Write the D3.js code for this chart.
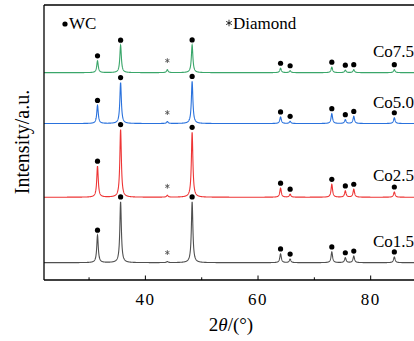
<!DOCTYPE html>
<html>
<head>
<meta charset="utf-8">
<script src="https://cdn.jsdelivr.net/npm/d3@7"></script>
<style>
  body { margin: 0; background: #fff; }
  svg { display: block; font-family: "Liberation Serif", "DejaVu Serif", serif; }
</style>
</head>
<body>
<svg id="chart" width="414" height="341"></svg>
<script>
// peak positions (2theta) and what phase each belongs to
const peakPos = [31.5, 35.6, 43.9, 48.3, 64.0, 65.7, 73.1, 75.5, 77.0, 84.2];
const peakPhase = ["WC", "WC", "D", "WC", "WC", "WC", "WC", "WC", "WC", "WC"];

// peak intensities per sample (a.u.)
const samples = ["Co1.5", "Co2.5", "Co5.0", "Co7.5"];
const baseLevels = [6.3, 30.1, 56.9, 75.4];
const co15 = [10.0, 22.1, 0.4, 22.1, 3.2, 1.3, 3.9, 1.8, 2.4, 2.1];
const co25 = [11.3, 24.6, 0.7, 23.6, 3.3, 1.1, 4.7, 2.3, 2.9, 1.9];
const co50 = [6.6, 14.9, 0.7, 15.3, 2.4, 0.8, 3.6, 1.4, 2.6, 2.1];
const co75 = [4.3, 10.0, 1.1, 10.1, 1.6, 0.7, 2.0, 0.9, 1.1, 1.1];
const heights = [co15, co25, co50, co75];
const colors = ["#505050", "#ee3535", "#2a72dd", "#3aa66a"];

const xTicks = [30, 40, 50, 60, 70, 80, 90];
const xLabels = [40, 60, 80];

const svg = d3.select("#chart");
const W = 414, H = 341;
const margin = { left: 44, top: 5, bottom: 280 };

const x = d3.scaleLinear().domain([22, 90]).range([margin.left, 427]);
const y = d3.scaleLinear().domain([0, 100]).range([margin.bottom, margin.top]);

svg.append("rect").attr("width", W).attr("height", H).attr("fill", "#fff");

// peak profile (lorentzian) on a grid of 2theta
const hw = 0.16;
const grid = d3.range(22, 90.001, 0.02);
function profile(base, hs) {
  return grid.map((t) => {
    let v = base;
    peakPos.forEach((p, i) => {
      const d = (t - p) / hw;
      v += hs[i] / (1 + d * d);
    });
    return [t, v];
  });
}

const line = d3.line().x((d) => x(d[0])).y((d) => y(d[1]));

svg.append("clipPath").attr("id", "plotclip")
  .append("rect").attr("x", margin.left).attr("y", margin.top)
  .attr("width", W - margin.left).attr("height", margin.bottom - margin.top);

const plot = svg.append("g").attr("clip-path", "url(#plotclip)");

const star = d3.symbol(d3.symbolAsterisk, 16)();

samples.forEach((s, k) => {
  plot.append("path")
    .datum(profile(baseLevels[k], heights[k]))
    .attr("fill", "none")
    .attr("stroke", colors[k])
    .attr("stroke-width", 1.1)
    .attr("d", line);

  // phase markers above each peak
  peakPos.forEach((p, i) => {
    const top = y(baseLevels[k] + heights[k][i]);
    if (peakPhase[i] === "WC") {
      svg.append("circle")
        .attr("cx", x(p))
        .attr("cy", top - 5)
        .attr("r", 2.6)
        .attr("fill", "#000");
    } else {
      svg.append("path")
        .attr("d", star)
        .attr("transform", `translate(${x(p)},${top - 9})`)
        .attr("fill", "none")
        .attr("stroke", "#555")
        .attr("stroke-width", 0.9);
    }
  });

  svg.append("text")
    .attr("x", 373)
    .attr("y", y(baseLevels[k]) - 16)
    .attr("font-size", 17)
    .text(s);
});

// frame: left, top, bottom
svg.append("line").attr("x1", margin.left).attr("x2", margin.left)
  .attr("y1", margin.top).attr("y2", margin.bottom)
  .attr("stroke", "#000").attr("stroke-width", 1.3);
svg.append("line").attr("x1", margin.left).attr("x2", W)
  .attr("y1", margin.top).attr("y2", margin.top)
  .attr("stroke", "#000").attr("stroke-width", 1.3);
svg.append("line").attr("x1", margin.left).attr("x2", W)
  .attr("y1", margin.bottom).attr("y2", margin.bottom)
  .attr("stroke", "#000").attr("stroke-width", 1.3);

// inward ticks
svg.selectAll("line.xtick")
  .data(xTicks)
  .join("line")
  .attr("class", "xtick")
  .attr("x1", (d) => x(d)).attr("x2", (d) => x(d))
  .attr("y1", margin.bottom)
  .attr("y2", (d) => margin.bottom - (xLabels.includes(d) ? 4.5 : 2.7))
  .attr("stroke", "#000").attr("stroke-width", 1);

svg.selectAll("text.xlab")
  .data(xLabels)
  .join("text")
  .attr("class", "xlab")
  .attr("x", (d) => x(d))
  .attr("y", 305)
  .attr("text-anchor", "middle")
  .attr("font-size", 17)
  .attr("letter-spacing", 1.5)
  .text((d) => d);

// axis titles
const xt = svg.append("text")
  .attr("x", 231).attr("y", 331)
  .attr("text-anchor", "middle")
  .attr("font-size", 19);
xt.append("tspan").text("2");
xt.append("tspan").attr("font-style", "italic").text("θ");
xt.append("tspan").text("/(°)");

svg.append("text")
  .attr("transform", "translate(29,142) rotate(-90)")
  .attr("text-anchor", "middle")
  .attr("font-size", 20)
  .text("Intensity/a.u.");

// legend
svg.append("circle").attr("cx", 65).attr("cy", 24).attr("r", 2.6).attr("fill", "#000");
svg.append("text").attr("x", 69).attr("y", 29).attr("font-size", 17).text("WC");
svg.append("path").attr("d", d3.symbol(d3.symbolAsterisk, 30)())
  .attr("transform", "translate(229,23)")
  .attr("fill", "none").attr("stroke", "#000").attr("stroke-width", 0.8);
svg.append("text").attr("x", 233).attr("y", 29).attr("font-size", 17).text("Diamond");
</script>
</body>
</html>
